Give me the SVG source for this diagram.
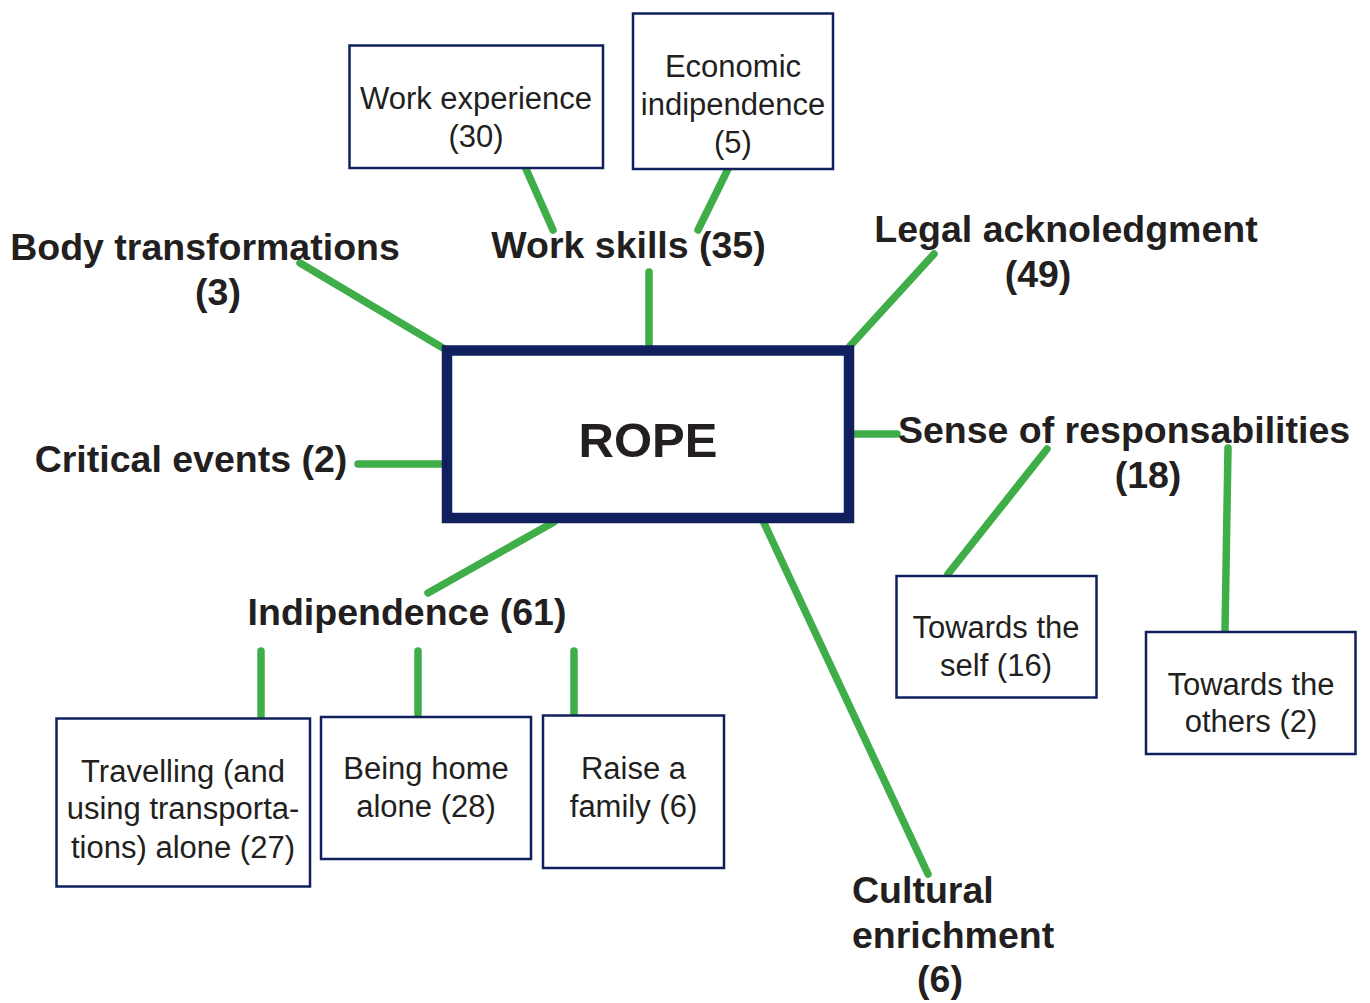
<svg xmlns="http://www.w3.org/2000/svg" width="1370" height="1003" viewBox="0 0 1370 1003">
<style>
.bg{fill:#ffffff}
.box{fill:#ffffff;stroke:#10205e;stroke-width:2.5}
.main{fill:#ffffff;stroke:#10205e;stroke-width:10.5}
.t{font-family:"Liberation Sans",Arial,Helvetica,sans-serif;font-size:31px;fill:#231f20;text-anchor:middle}
.b{font-family:"Liberation Sans",Arial,Helvetica,sans-serif;font-size:37.5px;font-weight:bold;fill:#231f20;text-anchor:middle}
.l{fill:none;stroke:#3fae49;stroke-width:7.5;stroke-linecap:round}
</style>
<rect class="bg" x="0" y="0" width="1370" height="1003"/>
<g id="connectors">
<line class="l" x1="526" y1="169" x2="553" y2="230"/>
<line class="l" x1="728" y1="169" x2="698" y2="230"/>
<line class="l" x1="649" y1="272" x2="649" y2="346"/>
<line class="l" x1="300" y1="263" x2="443" y2="348"/>
<line class="l" x1="934" y1="254" x2="850" y2="346"/>
<line class="l" x1="855" y1="434" x2="897" y2="434"/>
<line class="l" x1="358" y1="464" x2="442" y2="464"/>
<line class="l" x1="554" y1="522" x2="428" y2="593"/>
<line class="l" x1="764" y1="523" x2="928" y2="874"/>
<line class="l" x1="1047" y1="449" x2="948" y2="574"/>
<line class="l" x1="1228" y1="448" x2="1225" y2="631"/>
<line class="l" x1="261" y1="651" x2="261" y2="716"/>
<line class="l" x1="418" y1="651" x2="418" y2="716"/>
<line class="l" x1="574" y1="651" x2="574" y2="714"/>
</g>
<g id="rope">
<rect class="main" x="447" y="350.5" width="402" height="167.5"/>
<text x="648" y="457" class="b" style="font-size:49px">ROPE</text>
</g>
<g id="work-experience">
<rect class="box" x="349.5" y="45.5" width="253.5" height="122.5"/>
<text class="t" x="476" y="109">Work experience</text>
<text class="t" x="476" y="147">(30)</text>
</g>
<g id="economic-indipendence">
<rect class="box" x="633" y="13.5" width="200" height="155.5"/>
<text class="t" x="733" y="77">Economic</text>
<text class="t" x="733" y="115">indipendence</text>
<text class="t" x="733" y="153">(5)</text>
</g>
<g id="work-skills">
<text class="b" x="628.5" y="258">Work skills (35)</text>
</g>
<g id="body-transformations">
<text class="b" x="205" y="260">Body transformations</text>
<text class="b" x="218" y="305">(3)</text>
</g>
<g id="legal-acknoledgment">
<text class="b" x="1066" y="242">Legal acknoledgment</text>
<text class="b" x="1038" y="287">(49)</text>
</g>
<g id="critical-events">
<text class="b" x="191" y="472">Critical events (2)</text>
</g>
<g id="sense-of-responsabilities">
<text class="b" x="1124" y="443">Sense of responsabilities</text>
<text class="b" x="1148" y="488">(18)</text>
</g>
<g id="towards-self">
<rect class="box" x="896.5" y="576" width="200" height="121.5"/>
<text class="t" x="996" y="638">Towards the</text>
<text class="t" x="996" y="676">self (16)</text>
</g>
<g id="towards-others">
<rect class="box" x="1146" y="632" width="209.5" height="122"/>
<text class="t" x="1251" y="695">Towards the</text>
<text class="t" x="1251" y="732">others (2)</text>
</g>
<g id="indipendence">
<text class="b" x="407" y="625">Indipendence (61)</text>
</g>
<g id="travelling">
<rect class="box" x="56.5" y="718.5" width="253.5" height="168"/>
<text class="t" x="183" y="782">Travelling (and</text>
<text class="t" x="183" y="819">using transporta-</text>
<text class="t" x="183" y="858">tions) alone (27)</text>
</g>
<g id="being-home">
<rect class="box" x="321" y="717" width="210" height="142"/>
<text class="t" x="426" y="779">Being home</text>
<text class="t" x="426" y="817">alone (28)</text>
</g>
<g id="raise-family">
<rect class="box" x="543" y="715.5" width="181" height="152.5"/>
<text class="t" x="633.5" y="779">Raise a</text>
<text class="t" x="633.5" y="817">family (6)</text>
</g>
<g id="cultural-enrichment">
<text class="b" x="852" y="903" style="text-anchor:start">Cultural</text>
<text class="b" x="852" y="948" style="text-anchor:start">enrichment</text>
<text class="b" x="940" y="992">(6)</text>
</g>
</svg>
